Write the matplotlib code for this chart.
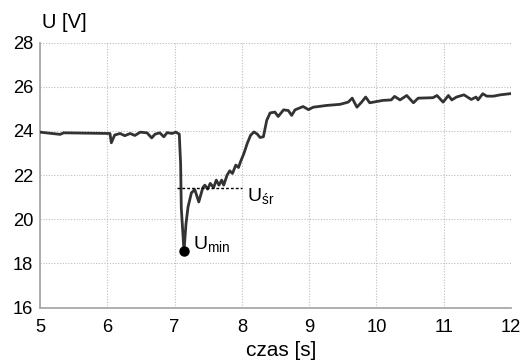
import matplotlib
matplotlib.use("Agg")
import matplotlib.pyplot as plt

plt.rcParams['font.family'] = ['Liberation Sans', 'DejaVu Sans']

t = [5.0, 5.3, 5.35, 6.04, 6.06, 6.11, 6.19, 6.26, 6.34, 6.41, 6.49, 6.59, 6.66, 6.71,
     6.78, 6.84, 6.89, 6.96, 7.02, 7.07, 7.09, 7.1, 7.14, 7.17, 7.2, 7.25, 7.3, 7.36,
     7.42, 7.45, 7.49, 7.53, 7.58, 7.62, 7.66, 7.7, 7.73, 7.78, 7.82, 7.86, 7.91, 7.95,
     7.98, 8.03, 8.08, 8.13, 8.18, 8.23, 8.27, 8.32, 8.37, 8.42, 8.49, 8.54, 8.62, 8.69,
     8.74, 8.79, 8.91, 8.99, 9.06, 9.26, 9.46, 9.58, 9.64, 9.71, 9.78, 9.84, 9.9, 10.1,
     10.22, 10.27, 10.35, 10.45, 10.55, 10.62, 10.84, 10.9, 10.99, 11.07, 11.12, 11.19,
     11.3, 11.41, 11.48, 11.51, 11.58, 11.64, 11.74, 11.84, 11.98]
u = [23.94, 23.84, 23.91, 23.88, 23.46, 23.81, 23.88, 23.78, 23.88, 23.79, 23.94, 23.91,
     23.68, 23.85, 23.91, 23.73, 23.92, 23.88, 23.94, 23.85, 22.5, 20.5, 18.55, 19.8,
     20.55, 21.19, 21.34, 20.78, 21.43, 21.54, 21.36, 21.62, 21.43, 21.77, 21.54, 21.77,
     21.54, 21.99, 22.19, 22.07, 22.45, 22.34, 22.6, 22.97, 23.43, 23.8, 23.95, 23.85,
     23.7, 23.73, 24.48, 24.81, 24.85, 24.65, 24.95, 24.92, 24.7, 24.95, 25.1, 24.96,
     25.07, 25.15, 25.2, 25.3, 25.48, 25.07, 25.3, 25.53, 25.27, 25.38, 25.4, 25.56,
     25.4, 25.6, 25.27, 25.48, 25.5, 25.6, 25.3, 25.6, 25.4, 25.53, 25.63, 25.42, 25.53,
     25.4, 25.68, 25.57, 25.57, 25.63, 25.68]

u_min_t, u_min = 7.14, 18.55
u_sr = 21.43
u_sr_t = [7.03, 8.0]

xticks = [5, 6, 7, 8, 9, 10, 11, 12]
yticks = [16, 18, 20, 22, 24, 26, 28]

fig = plt.figure(figsize=(5.21, 3.63), dpi=100)
ax = fig.add_axes([40/521, 1-307.5/363, 471/521, 265/363])

ax.plot(t, u, color='#333333', lw=2.0, zorder=3, solid_joinstyle='round')
ax.plot([u_min_t], [u_min], 'o', color='black', ms=6.5, zorder=4)
ax.plot(u_sr_t, [u_sr, u_sr], linestyle=(0, (2, 1.5)), color='black', lw=1.0, zorder=3)

ax.text(7.27, 18.85, r'U$_{\mathregular{min}}$', fontsize=14, va='center', ha='left')
ax.text(8.07, 21.0, r'U$_{\mathregular{śr}}$', fontsize=14, va='center', ha='left')

ax.set_xlim(5, 12)
ax.set_ylim(16, 28)
ax.set_xticks(xticks)
ax.set_yticks(yticks)
ax.tick_params(length=0, labelsize=13.2)
ax.tick_params(axis='x', pad=8)
ax.tick_params(axis='y', pad=5)
ax.grid(True, linestyle=(0, (1, 1.5)), color='#bdbdbd', lw=0.8)
for s in ['top', 'right']:
    ax.spines[s].set_visible(False)
for s in ['left', 'bottom']:
    ax.spines[s].set_color('#a8a8a8')
    ax.spines[s].set_linewidth(1.3)

fig.text(42/521, 1-23/363, 'U [V]', fontsize=14.5, ha='left', va='center')
fig.text(281/521, 1-351/363, 'czas [s]', fontsize=15, ha='center', va='center')

fig.savefig('out.png', dpi=100)
